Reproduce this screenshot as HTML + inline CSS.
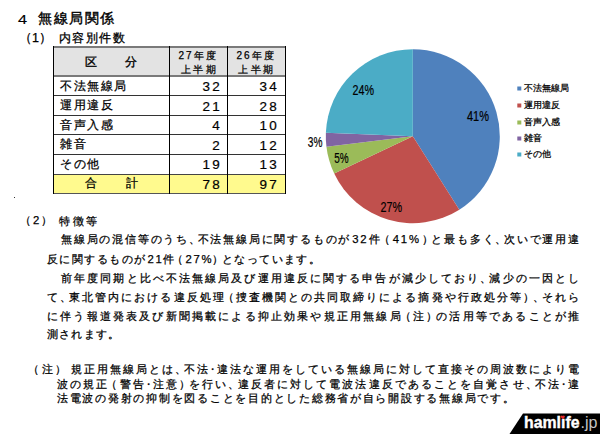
<!DOCTYPE html>
<html lang="ja">
<head>
<meta charset="utf-8">
<style>
html,body{margin:0;padding:0;background:#fff;}
body{width:600px;height:434px;position:relative;overflow:hidden;font-family:"Liberation Sans",sans-serif;color:#000;}
.t{position:absolute;white-space:nowrap;line-height:1;-webkit-text-stroke:0.25px #000;}
.b{font-size:11.3px;}
.j{text-align:justify;text-align-last:justify;}
.hl{position:absolute;background:#000;}
.h2{position:absolute;background:#7a7a7a;}
.c{position:absolute;font-size:12px;line-height:1;white-space:nowrap;-webkit-text-stroke:0.25px #000;}
.pc{margin-right:-4px}.po{margin-left:-3px}.pe{margin-right:-3px}.pm{margin:0 -3px}
.dg{letter-spacing:1.8px;margin-left:1px;margin-right:-1px}
.num{-webkit-text-stroke:0.2px #000;text-align:right;letter-spacing:2px;transform:scaleX(1.12);transform-origin:right center;}
</style>
</head>
<body>
<!-- headings -->
<div id="m_t4" class="t" style="left:18px;top:13px;font-size:13px;transform:scaleX(1.25);transform-origin:left;-webkit-text-stroke:0.15px #000">4</div>
<div id="m_t" class="t" style="left:38px;top:11.5px;font-size:13.5px;letter-spacing:1.5px;-webkit-text-stroke:0.4px #000">無線局関係</div>
<div id="m_p1" class="t" style="left:19px;top:32px;font-size:12.5px;">（1）</div>
<div id="m_h1" class="t" style="left:58.5px;top:32.5px;font-size:11.8px;letter-spacing:1.5px;-webkit-text-stroke:0.3px #000">内容別件数</div>

<!-- table backgrounds -->
<div style="position:absolute;left:53px;top:47px;width:232px;height:29px;background:#e3e3e3;"></div>
<div style="position:absolute;left:53px;top:174px;width:232px;height:19px;background:#fffa8e;"></div>
<!-- horizontal lines -->
<div class="h2" style="left:53px;top:46px;width:233px;height:2px;"></div>
<div class="h2" style="left:53px;top:75px;width:233px;height:2px;"></div>
<div class="h2" style="left:53px;top:95px;width:233px;height:1px;background:#333"></div>
<div class="h2" style="left:53px;top:115px;width:233px;height:1px;background:#333"></div>
<div class="h2" style="left:53px;top:134px;width:233px;height:1px;background:#333"></div>
<div class="h2" style="left:53px;top:154px;width:233px;height:1px;background:#333"></div>
<div class="h2" style="left:53px;top:173.5px;width:233px;height:1.5px;background:#444"></div>
<div class="h2" style="left:53px;top:192.5px;width:233px;height:1.5px;background:#555"></div>
<!-- vertical lines -->
<div class="hl" style="left:53px;top:46px;width:1px;height:148px;"></div>
<div class="hl" style="left:169px;top:46px;width:1px;height:148px;"></div>
<div class="hl" style="left:227px;top:46px;width:1px;height:148px;"></div>
<div class="hl" style="left:285px;top:46px;width:1px;height:148px;"></div>

<!-- header text -->
<div id="m_ku" class="c" style="left:84.5px;top:55.5px;-webkit-text-stroke:0.35px #000">区</div>
<div id="m_bun" class="c" style="left:125px;top:55.5px;-webkit-text-stroke:0.35px #000">分</div>
<div id="m_27" class="c" style="left:178.5px;top:51px;font-size:10px;letter-spacing:2px">27年度</div>
<div id="m_27b" class="c" style="left:180.5px;top:65px;font-size:10px;letter-spacing:2.5px">上半期</div>
<div id="m_26" class="c" style="left:236.5px;top:51px;font-size:10px;letter-spacing:2px">26年度</div>
<div id="m_26b" class="c" style="left:238px;top:65px;font-size:10px;letter-spacing:2.5px">上半期</div>

<!-- rows -->
<div id="m_r1" class="c" style="left:60px;top:80px;letter-spacing:1.6px">不法無線局</div>

<div id="m_r2" class="c" style="left:60px;top:99px;letter-spacing:1.6px">運用違反</div>

<div id="m_r3" class="c" style="left:60px;top:119px;letter-spacing:1.6px">音声入感</div>

<div id="m_r4" class="c" style="left:60px;top:138px;letter-spacing:1.6px">雑音</div>

<div id="m_r5" class="c" style="left:60px;top:158px;letter-spacing:1.6px">その他</div>

<div id="m_go" class="c" style="left:85px;top:177px;">合</div>
<div id="m_kei" class="c" style="left:125.5px;top:177px;">計</div>

<div id="m_n11" class="c num" style="left:160px;width:62px;top:81.0px;">32</div>
<div id="m_n12" class="c num" style="left:218px;width:61px;top:81.0px;">34</div>
<div id="m_n21" class="c num" style="left:160px;width:62px;top:100.5px;">21</div>
<div id="m_n22" class="c num" style="left:218px;width:61px;top:100.5px;">28</div>
<div id="m_n31" class="c num" style="left:160px;width:62px;top:120.0px;">4</div>
<div id="m_n32" class="c num" style="left:218px;width:61px;top:120.0px;">10</div>
<div id="m_n41" class="c num" style="left:160px;width:62px;top:139.5px;">2</div>
<div id="m_n42" class="c num" style="left:218px;width:61px;top:139.5px;">12</div>
<div id="m_n51" class="c num" style="left:160px;width:62px;top:159.0px;">19</div>
<div id="m_n52" class="c num" style="left:218px;width:61px;top:159.0px;">13</div>
<div id="m_n61" class="c num" style="left:160px;width:62px;top:178.5px;">78</div>
<div id="m_n62" class="c num" style="left:218px;width:61px;top:178.5px;">97</div>
<div style="position:absolute;left:14px;top:197px;width:1px;height:1px;background:#333;"></div>

<!-- pie chart -->
<svg style="position:absolute;left:0;top:0" width="600" height="434" viewBox="0 0 600 434">
<path d="M412.8,136.2 L412.80,49.20 A87,87 0 0 1 459.30,209.73 Z" fill="#4f81bd"/>
<path d="M412.8,136.2 L459.30,209.73 A87,87 0 0 1 334.20,173.50 Z" fill="#c0504d"/>
<path d="M412.8,136.2 L334.20,173.50 A87,87 0 0 1 326.43,146.69 Z" fill="#9bbb59"/>
<path d="M412.8,136.2 L326.43,146.69 A87,87 0 0 1 325.87,132.70 Z" fill="#8064a2"/>
<path d="M412.8,136.2 L325.87,132.70 A87,87 0 0 1 412.80,49.20 Z" fill="#4bacc6"/>
<g font-family="Liberation Sans" font-size="14" fill="#000" stroke="#000" stroke-width="0.2">
<text x="467" y="120.6" textLength="22" lengthAdjust="spacingAndGlyphs" id="m_pl41">41%</text>
<text x="352.5" y="95" textLength="21.5" lengthAdjust="spacingAndGlyphs" id="m_pl24">24%</text>
<text x="307.8" y="146.5" textLength="14.6" lengthAdjust="spacingAndGlyphs" id="m_pl3">3%</text>
<text x="334.3" y="163" textLength="14.4" lengthAdjust="spacingAndGlyphs" id="m_pl5">5%</text>
<text x="380.5" y="211.8" textLength="21.6" lengthAdjust="spacingAndGlyphs" id="m_pl27">27%</text>
</g>
<rect x="517.3" y="86.5" width="4" height="4" fill="#4f81bd"/>
<rect x="517.3" y="103.5" width="4" height="4" fill="#c0504d"/>
<rect x="517.3" y="120.5" width="4" height="4" fill="#9bbb59"/>
<rect x="517.3" y="136.5" width="4" height="4" fill="#8064a2"/>
<rect x="517.3" y="152.5" width="4" height="4" fill="#4bacc6"/>
</svg>
<div id="m_l1" class="t" style="left:524px;top:84px;font-size:9px;">不法無線局</div>
<div id="m_l2" class="t" style="left:524px;top:101px;font-size:9px;">運用違反</div>
<div id="m_l3" class="t" style="left:524px;top:118px;font-size:9px;">音声入感</div>
<div id="m_l4" class="t" style="left:524px;top:134px;font-size:9px;">雑音</div>
<div id="m_l5" class="t" style="left:524px;top:150px;font-size:9px;">その他</div>

<!-- section 2 -->
<div id="m_s2p" class="t b" style="left:20px;top:215px;letter-spacing:2px">（2）</div>
<div id="m_s2" class="t b" style="left:59px;top:215.5px;letter-spacing:2.5px">特徴等</div>
<div id="m_a1" class="t b j" style="left:61px;top:234px;width:518px;">無線局の混信等のうち<span class="pc">、</span>不法無線局に関するものが<span class="dg">32</span>件<span class="po">（</span><span class="dg">41%</span><span class="pe">）</span>と最も多く<span class="pc">、</span>次いで運用違</div>
<div id="m_a2" class="t b" style="left:47px;top:253.5px;letter-spacing:1.42px">反に関するものが<span class="dg">21</span>件<span class="po">（</span><span class="dg">27%</span><span class="pe">）</span>となっています。</div>
<div id="m_b1" class="t b j" style="left:61px;top:273px;width:518px;">前年度同期と比べ不法無線局及び運用違反に関する申告が減少しており<span class="pc">、</span>減少の一因とし</div>
<div id="m_b2" class="t b j" style="left:47px;top:292px;width:532px;">て<span class="pc">、</span>東北管内における違反処理<span class="po">（</span>捜査機関との共同取締りによる摘発や行政処分等<span class="pe">）</span><span class="pc">、</span>それら</div>
<div id="m_b3" class="t b j" style="left:47px;top:310.5px;width:532px;">に伴う報道発表及び新聞掲載による抑止効果や規正用無線局<span class="po">（</span>注<span class="pe">）</span>の活用等であることが推</div>
<div id="m_b4" class="t b" style="left:47px;top:328.5px;letter-spacing:1.2px">測されます。</div>

<!-- note -->
<div id="m_np" class="t b" style="left:28px;top:364px;letter-spacing:2.5px">（注）</div>
<div id="m_n1" class="t b j" style="left:71px;top:364px;width:508px;">規正用無線局とは<span class="pc">、</span>不法<span class="pm">・</span>違法な運用をしている無線局に対して直接その周波数により電</div>
<div id="m_n2" class="t b j" style="left:57px;top:379px;width:522px;">波の規正<span class="po">（</span>警告<span class="pm">・</span>注意<span class="pe">）</span>を行い<span class="pc">、</span>違反者に対して電波法違反であることを自覚させ<span class="pc">、</span>不法<span class="pm">・</span>違</div>
<div id="m_n3" class="t b" style="left:57px;top:393px;letter-spacing:1.74px">法電波の発射の抑制を図ることを目的とした総務省が自ら開設する無線局です。</div>

<!-- logo -->
<svg style="position:absolute;left:0;top:0" width="600" height="434">
<polygon points="523,413.5 600,413.5 600,434 509.5,434" fill="#000"/>
<text id="m_logo" x="524" y="427.7" font-family="Liberation Sans" font-weight="bold" font-size="15.6" fill="#fff" stroke="#fff" stroke-width="0.35" textLength="55.5" lengthAdjust="spacingAndGlyphs">hamlıfe</text>
<text id="m_jp" x="580.5" y="427.7" font-family="Liberation Sans" font-size="15.6" fill="#c4c4c4" textLength="17" lengthAdjust="spacingAndGlyphs">.jp</text>
<path d="M562.8,419.2 L560.9,417.2 A1.05,1.05 0 0 1 562.8,416 A1.05,1.05 0 0 1 564.7,417.2 Z" fill="#e8262a"/>
</svg>
</body>
</html>
